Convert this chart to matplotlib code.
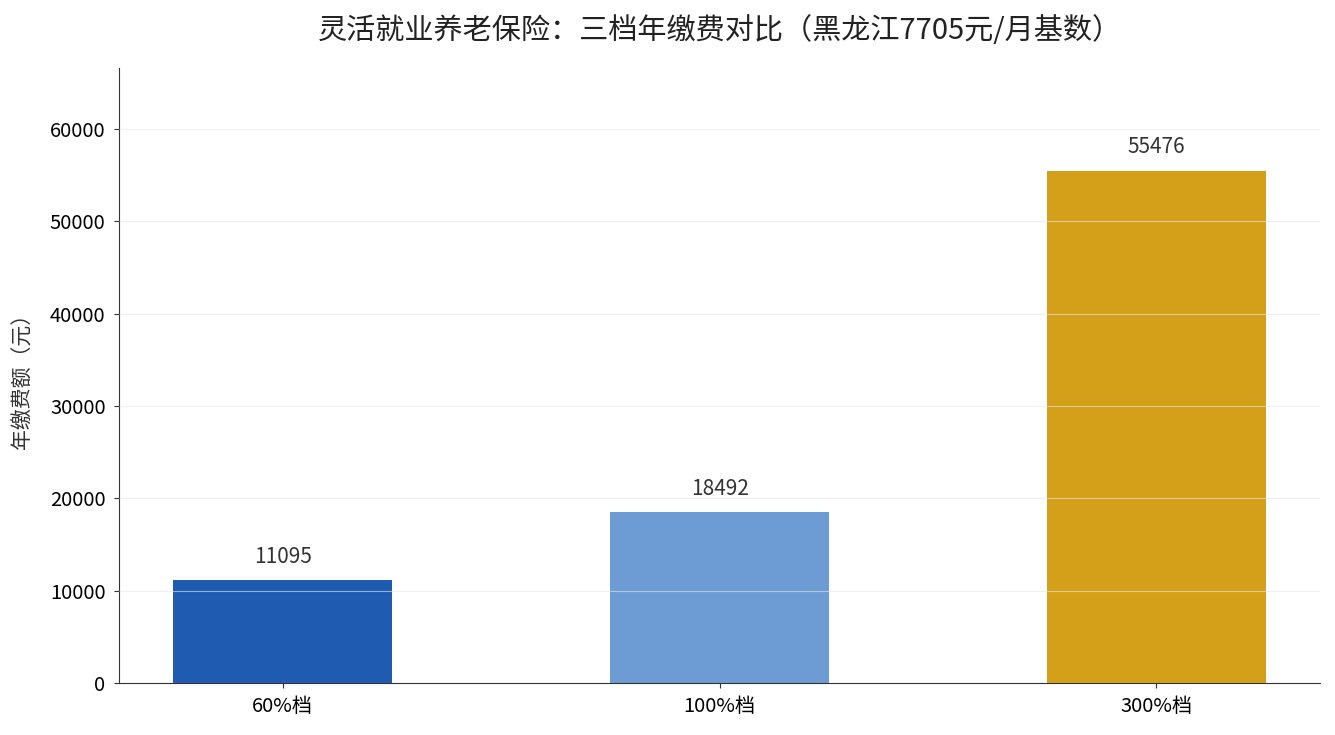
import matplotlib
matplotlib.use('Agg')
import matplotlib.pyplot as plt

plt.rcParams['font.family'] = ['Noto Sans CJK SC', 'DejaVu Sans']

# 数据
tiers = ['60%档', '100%档', '300%档']
annual_fee = [11095, 18492, 55476]
bar_colors = ['#1f5bb0', '#6d9bd3', '#d4a01a']

fig, ax = plt.subplots(figsize=(13.35, 7.35), dpi=100)
bars = ax.bar(tiers, annual_fee, width=0.5, color=bar_colors, zorder=1)

for b, v in zip(bars, annual_fee):
    ax.annotate(str(v), (b.get_x() + b.get_width() / 2, v), xytext=(0, 9),
                textcoords='offset points', ha='center', va='bottom',
                fontsize=15, color='#333333')

ax.set_ylim(0, max(annual_fee) * 1.2)
ax.set_title('灵活就业养老保险：三档年缴费对比（黑龙江7705元/月基数）', fontsize=21, pad=21, color='#222222')
ax.set_ylabel('年缴费额（元）', fontsize=15, color='#333333', labelpad=12)
ax.tick_params(labelsize=14.5, color='#333333', pad=6)
ax.yaxis.grid(True, color='#e6e6e6', alpha=0.6, linewidth=0.8, zorder=2)
ax.set_axisbelow(False)
ax.spines['top'].set_visible(False)
ax.spines['right'].set_visible(False)
ax.spines['left'].set_color('#333333')
ax.spines['bottom'].set_color('#333333')

plt.subplots_adjust(left=0.089, right=0.989, top=0.907, bottom=0.071)
plt.savefig('out.png', dpi=100)
